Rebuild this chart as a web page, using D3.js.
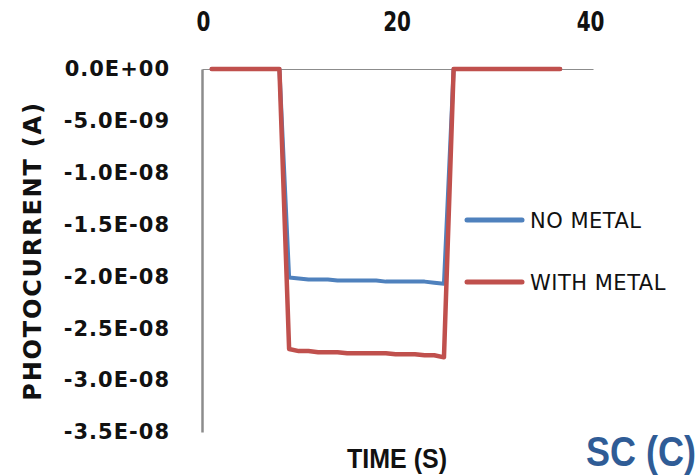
<!DOCTYPE html>
<html>
<head>
<meta charset="utf-8">
<script src="https://cdn.jsdelivr.net/npm/d3@7"></script>
<style>
  html, body { margin: 0; padding: 0; background: #fff; }
  svg { display: block; }
</style>
</head>
<body>
<svg id="chart" width="699" height="475"></svg>
<script>
// Sampled once per second
const time = [1,2,3,4,5,6,7,8,9,10,11,12,13,14,15,16,17,18,19,20,21,22,23,24,25,26,27,28,29,30,31,32,33,34,35,36,37];

const noMetal = [0,0,0,0,0,0,0,0,
  -2.01e-8,-2.02e-8,-2.03e-8,-2.03e-8,-2.03e-8,-2.04e-8,-2.04e-8,-2.04e-8,-2.04e-8,
  -2.04e-8,-2.05e-8,-2.05e-8,-2.05e-8,-2.05e-8,-2.05e-8,-2.06e-8,-2.07e-8,
  0,0,0,0,0,0,0,0,0,0,0,0];

const withMetal = [0,0,0,0,0,0,0,0,
  -2.70e-8,-2.72e-8,-2.72e-8,-2.73e-8,-2.73e-8,-2.73e-8,-2.74e-8,-2.74e-8,-2.74e-8,
  -2.74e-8,-2.74e-8,-2.75e-8,-2.75e-8,-2.75e-8,-2.76e-8,-2.76e-8,-2.78e-8,
  0,0,0,0,0,0,0,0,0,0,0,0];

const xTicks = [0, 20, 40];
const yTicks = [0, -5e-9, -1e-8, -1.5e-8, -2e-8, -2.5e-8, -3e-8, -3.5e-8];
const yTickLabels = ["0.0E+00","-5.0E-09","-1.0E-08","-1.5E-08","-2.0E-08","-2.5E-08","-3.0E-08","-3.5E-08"];

const series = [
  { name: "NO METAL", values: noMetal, color: "#4F81BD", width: 4 },
  { name: "WITH METAL", values: withMetal, color: "#C0504D", width: 4.5 }
];

const svg = d3.select("#chart");

const x = d3.scaleLinear().domain([0, 40.4]).range([202, 593]);
const y = d3.scaleLinear().domain([0, -3.5e-8]).range([69, 432]);

// Time axis along the top (zero current line)
const xAxis = svg.append("g")
  .attr("transform", `translate(0,${y(0)})`)
  .call(d3.axisTop(x).tickValues(xTicks).tickSize(0).tickSizeOuter(0).tickPadding(0));
xAxis.select(".domain").attr("stroke", "#8c8c8c").attr("stroke-width", 1.2);
xAxis.selectAll(".tick text")
  .attr("y", 0).attr("dy", null)
  .attr("transform", "translate(1,-38) scale(1,1.35)")
  .style("font-family", "DejaVu Sans")
  .style("font-weight", "bold")
  .style("font-size", "20px")
  .attr("fill", "#111");

// Current axis
const yAxis = svg.append("g")
  .attr("transform", `translate(${x(0)},0)`)
  .call(d3.axisLeft(y).tickValues(yTicks).tickFormat((d, i) => yTickLabels[i])
    .tickSize(0).tickSizeOuter(0).tickPadding(32));
yAxis.select(".domain").attr("stroke", "#8c8c8c").attr("stroke-width", 2.5);
yAxis.selectAll(".tick text")
  .style("font-family", "DejaVu Sans")
  .style("font-weight", "bold")
  .style("font-size", "21px")
  .style("letter-spacing", "1px")
  .attr("fill", "#111");

// Series lines
const line = d3.line().x((d, i) => x(time[i])).y(d => y(d));
series.forEach(s => {
  svg.append("path")
    .datum(s.values)
    .attr("d", line)
    .attr("fill", "none")
    .attr("stroke", s.color)
    .attr("stroke-width", s.width)
    .attr("stroke-linejoin", "round")
    .attr("stroke-linecap", "round");
});

// Legend
const legend = svg.append("g");
series.forEach((s, i) => {
  const ly = 220 + i * 62;
  legend.append("line")
    .attr("x1", 467).attr("x2", 522).attr("y1", ly).attr("y2", ly)
    .attr("stroke", s.color).attr("stroke-width", 5).attr("stroke-linecap", "round");
  legend.append("text")
    .attr("x", 530).attr("y", ly + 8)
    .style("font-family", "DejaVu Sans")
    .style("font-size", "21px")
    .style("letter-spacing", "0.5px")
    .attr("fill", "#111")
    .text(s.name);
});

// Axis titles
svg.append("text")
  .attr("transform", "translate(41,251) rotate(-90)")
  .attr("text-anchor", "middle")
  .style("font-family", "DejaVu Sans")
  .style("font-weight", "bold")
  .style("font-size", "24px")
  .style("letter-spacing", "1.8px")
  .attr("fill", "#111")
  .text("PHOTOCURRENT (A)");

svg.append("text")
  .attr("transform", "translate(397,468) scale(1,1.1)")
  .attr("text-anchor", "middle")
  .style("font-family", "Liberation Sans")
  .style("font-weight", "bold")
  .style("font-size", "25px")
  .attr("fill", "#111")
  .text("TIME (S)");

svg.append("text")
  .attr("transform", "translate(641,466) scale(1,1.2)")
  .attr("text-anchor", "middle")
  .style("font-family", "Liberation Sans")
  .style("font-weight", "bold")
  .style("font-size", "36px")
  .attr("fill", "#2F5C96")
  .text("SC (C)");
</script>
</body>
</html>
